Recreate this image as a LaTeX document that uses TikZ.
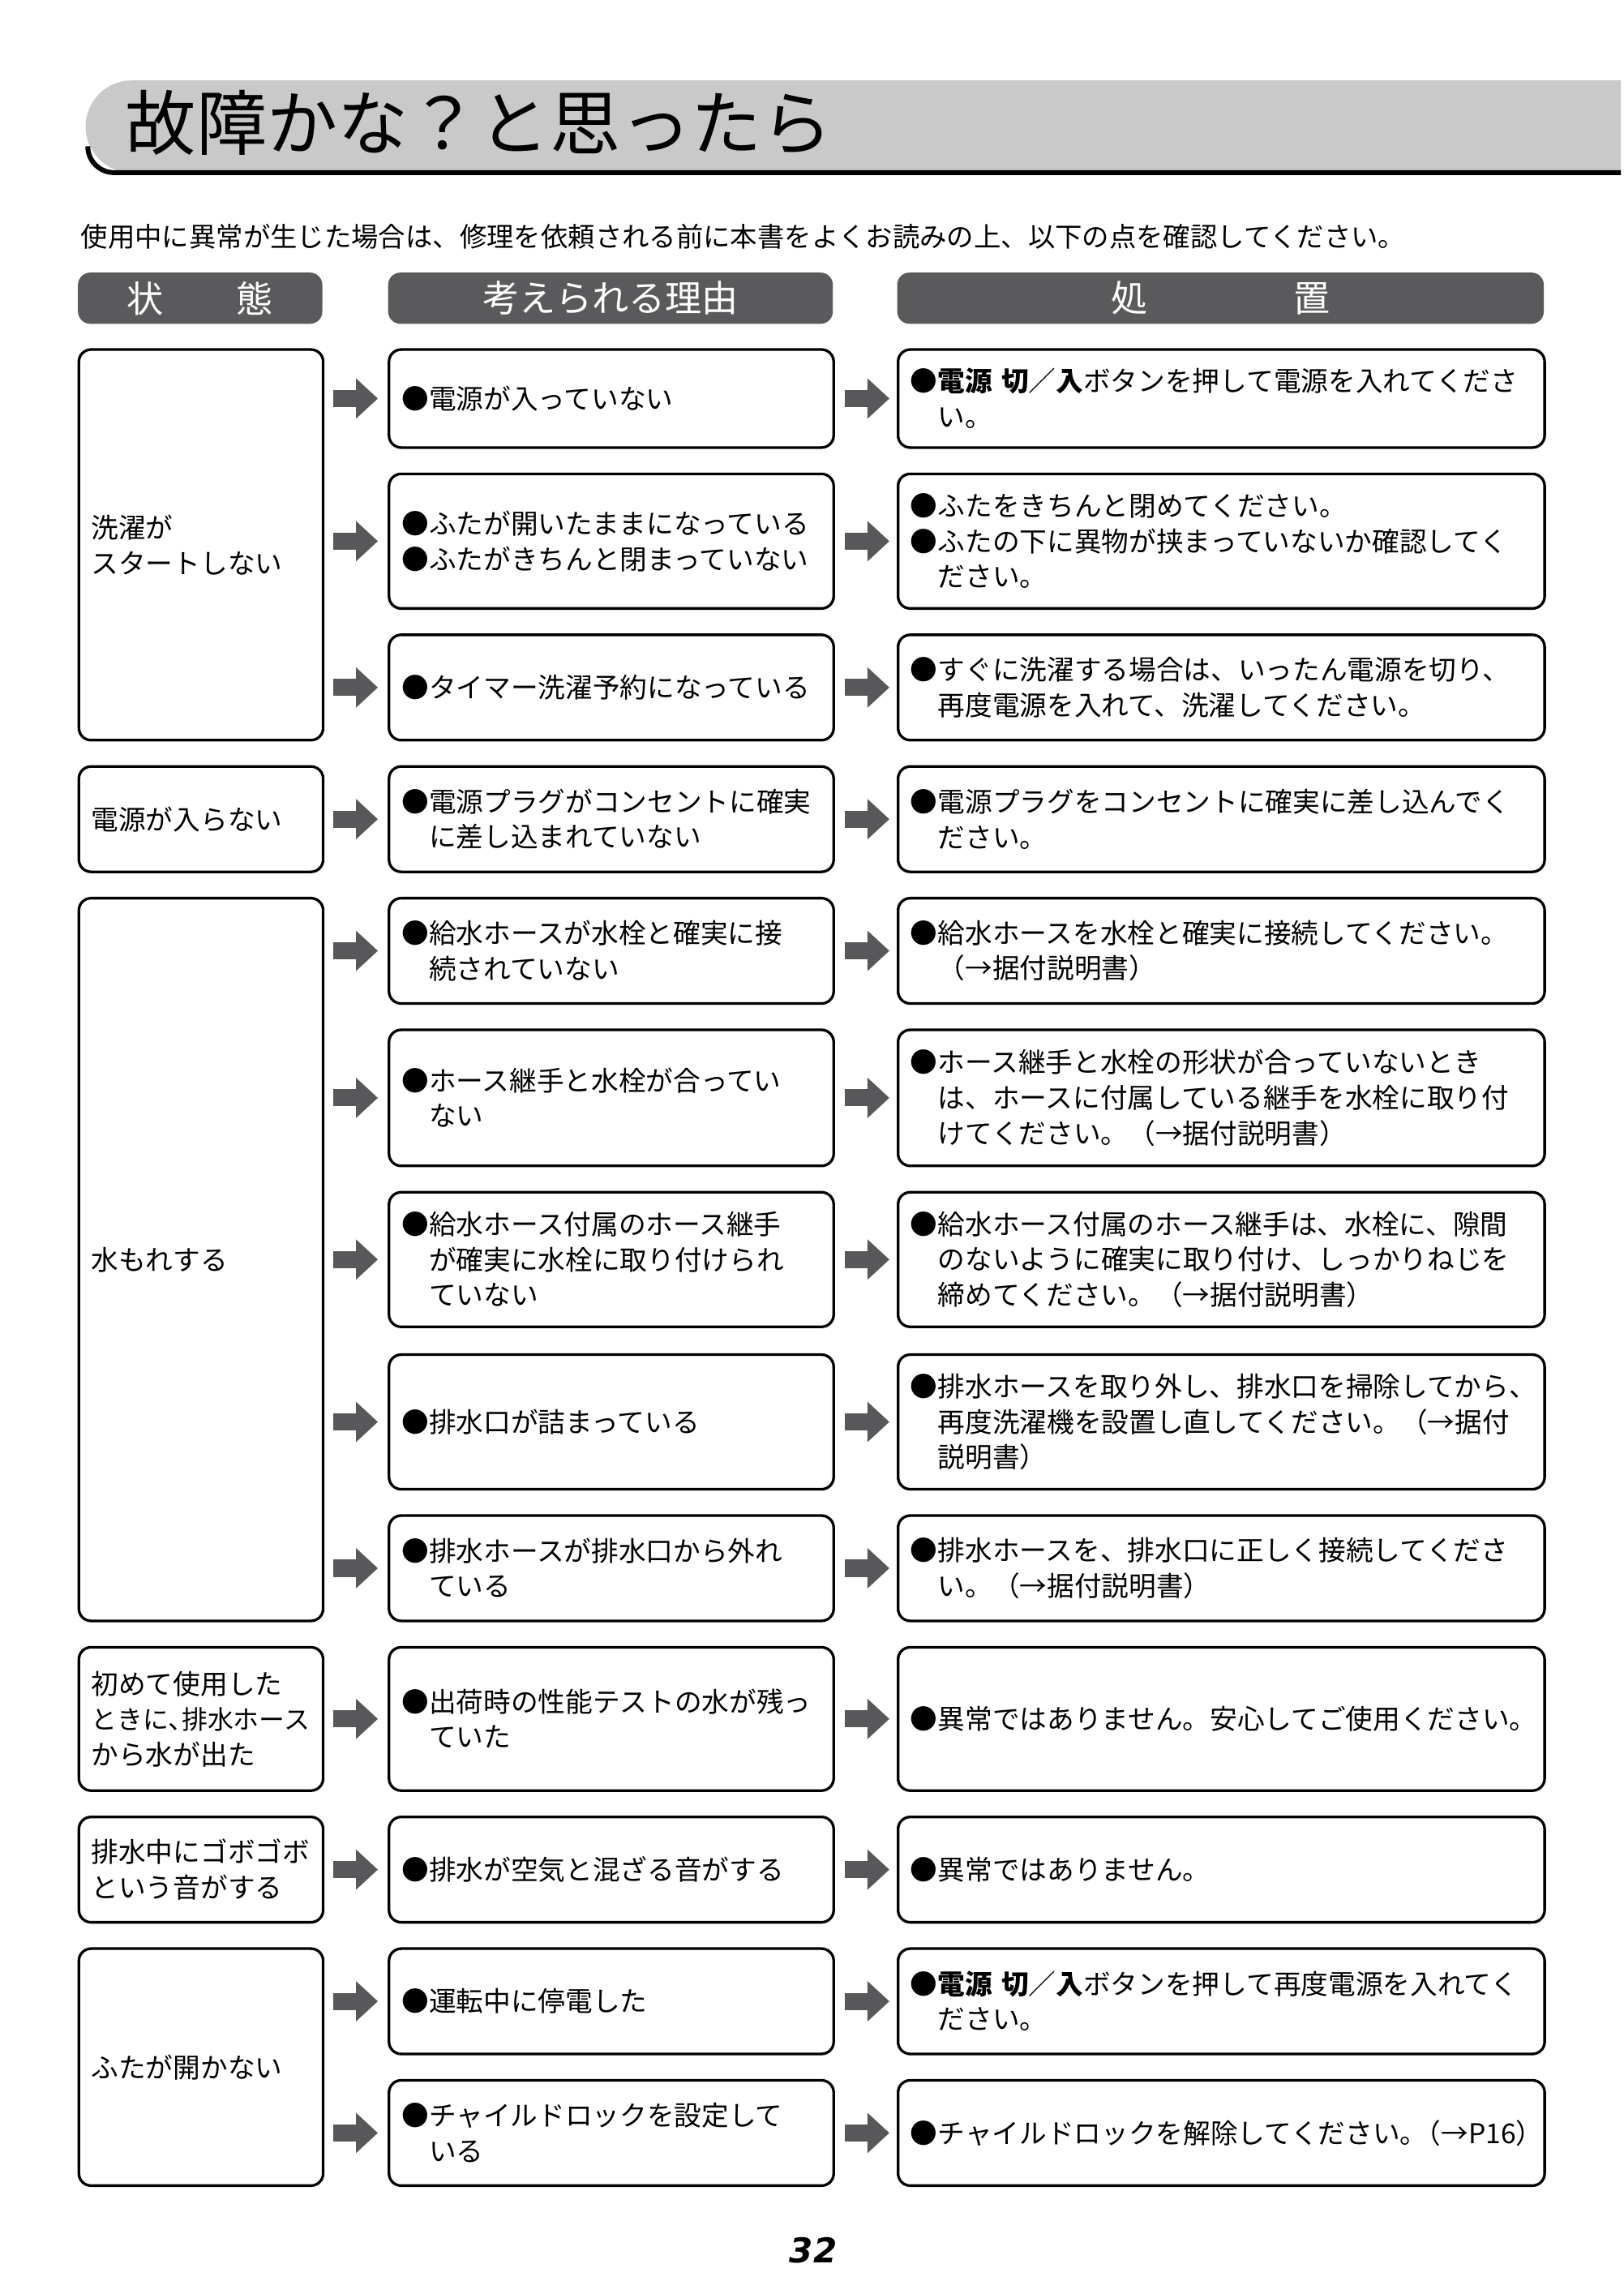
\documentclass[tikz,border=0pt]{standalone}
\usepackage{fontspec}
\setmainfont{Noto Sans CJK JP}
\newfontfamily\pagefont{DejaVu Sans}
\usetikzlibrary{arrows.meta}
\definecolor{bargray}{HTML}{5A5A5C}
\definecolor{titlegray}{HTML}{C9C9CA}
\definecolor{arrgray}{HTML}{58585A}

\begin{document}
\begin{tikzpicture}
      [x=0.6pt, y=-0.6pt,
      box/.style={draw, line width=1.1pt, rounded corners=5pt, anchor=north west,
        align=left, inner sep=0pt, font=\fontsize{11.2}{14.5}\selectfont},
      state/.style={box, minimum width=100.2pt, text width=90pt},
      reason/.style={box, minimum width=182.4pt, text width=172pt},
      action/.style={box, minimum width=265.2pt, text width=255pt},
      h/.style={minimum height=#1*0.6pt},
      head/.style={fill=bargray, rounded corners=5pt, anchor=north west, minimum height=21pt,
        text=white, inner sep=0pt, font=\fontsize{15}{15}\selectfont},
      blk/.style={arrgray, line width=7pt, -{Triangle[width=16pt, length=9pt]}}]
      \useasboundingbox (0,0) rectangle (1110,1568);
      % title bar
      \fill[titlegray] (1108,55) -- (90,55) arc[start angle=270, end angle=90, radius=31.5] -- (1108,118) -- cycle;
      \draw[line width=2pt] (60,100) arc[start angle=180, end angle=90, radius=18] -- (1108,118);
      \node[anchor=west, font=\fontsize{29}{29}\selectfont] (title) at (80,84) {故障かな？と思ったら};
      \node[anchor=west, inner sep=0pt, font=\fontsize{11.1}{11.1}\selectfont] (intro) at (55,162)
        {使用中に異常が生じた場合は、修理を依頼される前に本書をよくお読みの上、以下の点を確認してください。};
      % headers
      \node[head, minimum width=100.2pt] (h1) at (53,186) {状\hspace{2em}態};
      \node[head, minimum width=182.4pt] (h2) at (265,186) {考えられる理由};
      \node[head, minimum width=265.2pt] (h3) at (613,186) {処\hspace{4em}置};
      % states
      \node[state, h=267] (s1) at (53,238) {洗濯が\\スタートしない};
      \node[state, h=72] (s2) at (53,523) {電源が入らない};
      \node[state, h=494] (s3) at (53,613) {水もれする};
      \node[state, h=98] (s4) at (53,1125) {初めて使用した\\{\fontsize{10.6}{14.5}\selectfont ときに､排水ホース}\\から水が出た};
      \node[state, h=72] (s5) at (53,1241) {排水中にゴボゴボ\\という音がする};
      \node[state, h=162] (s6) at (53,1331) {ふたが開かない};
      % reasons
      \node[reason, h=67] (r1) at (265,238) {●電源が入っていない};
      \node[reason, h=92] (r2) at (265,323) {●ふたが開いたままになっている\\●ふたがきちんと閉まっていない};
      \node[reason, h=72] (r3) at (265,433) {●タイマー洗濯予約になっている};
      \node[reason, h=72] (r4) at (265,523) {●電源プラグがコンセントに確実\\\phantom{●}に差し込まれていない};
      \node[reason, h=72] (r5) at (265,613) {●給水ホースが水栓と確実に接\\\phantom{●}続されていない};
      \node[reason, h=93] (r6) at (265,703) {●ホース継手と水栓が合ってい\\\phantom{●}ない};
      \node[reason, h=92] (r7) at (265,814) {●給水ホース付属のホース継手\\\phantom{●}が確実に水栓に取り付けられ\\\phantom{●}ていない};
      \node[reason, h=92] (r8) at (265,925) {●排水口が詰まっている};
      \node[reason, h=72] (r9) at (265,1035) {●排水ホースが排水口から外れ\\\phantom{●}ている};
      \node[reason, h=98] (r10) at (265,1125) {●出荷時の性能テストの水が残っ\\\phantom{●}ていた};
      \node[reason, h=72] (r11) at (265,1241) {●排水が空気と混ざる音がする};
      \node[reason, h=72] (r12) at (265,1331) {●運転中に停電した};
      \node[reason, h=72] (r13) at (265,1421) {●チャイルドロックを設定して\\\phantom{●}いる};
      % actions
      \node[action, h=67] (a1) at (613,238) {●\textbf{電源 切}／\textbf{入}ボタンを押して電源を入れてくださ\\\phantom{●}い。};
      \node[action, h=92] (a2) at (613,323) {●ふたをきちんと閉めてください。\\●ふたの下に異物が挟まっていないか確認してく\\\phantom{●}ださい。};
      \node[action, h=72] (a3) at (613,433) {●すぐに洗濯する場合は、いったん電源を切り、\\\phantom{●}再度電源を入れて、洗濯してください。};
      \node[action, h=72] (a4) at (613,523) {●電源プラグをコンセントに確実に差し込んでく\\\phantom{●}ださい。};
      \node[action, h=72] (a5) at (613,613) {●給水ホースを水栓と確実に接続してください。\\\phantom{●}（→据付説明書）};
      \node[action, h=93] (a6) at (613,703) {●ホース継手と水栓の形状が合っていないとき\\\phantom{●}は、ホースに付属している継手を水栓に取り付\\\phantom{●}けてください。（→据付説明書）};
      \node[action, h=92] (a7) at (613,814) {●給水ホース付属のホース継手は、水栓に、隙間\\\phantom{●}のないように確実に取り付け、しっかりねじを\\\phantom{●}締めてください。（→据付説明書）};
      \node[action, h=92] (a8) at (613,925) {●排水ホースを取り外し、排水口を掃除してから、\\\phantom{●}再度洗濯機を設置し直してください。（→据付\\\phantom{●}説明書）};
      \node[action, h=72] (a9) at (613,1035) {●排水ホースを、排水口に正しく接続してくださ\\\phantom{●}い。（→据付説明書）};
      \node[action, h=98] (a10) at (613,1125) {●異常ではありません。安心してご使用ください。};
      \node[action, h=72] (a11) at (613,1241) {●異常ではありません。};
      \node[action, h=72] (a12) at (613,1331) {●\textbf{電源 切}／\textbf{入}ボタンを押して再度電源を入れてく\\\phantom{●}ださい。};
      \node[action, h=72] (a13) at (613,1421) {●チャイルドロックを解除してください。\kern-0.5em（→P16）};
      % arrows
      \foreach \i in {1,...,13}{
        \coordinate (c\i) at ([xshift=-37*0.6pt]r\i.west);
        \draw[blk] (c\i) -- ([xshift=-4pt]r\i.west);
        \draw[blk] ([xshift=4pt]r\i.east) -- ([xshift=-3pt]a\i.west);
      }
      \node[font=\pagefont\bfseries\itshape\fontsize{14}{14}\selectfont] (page) at (556,1538) {32};
    \end{tikzpicture}
\end{document}
